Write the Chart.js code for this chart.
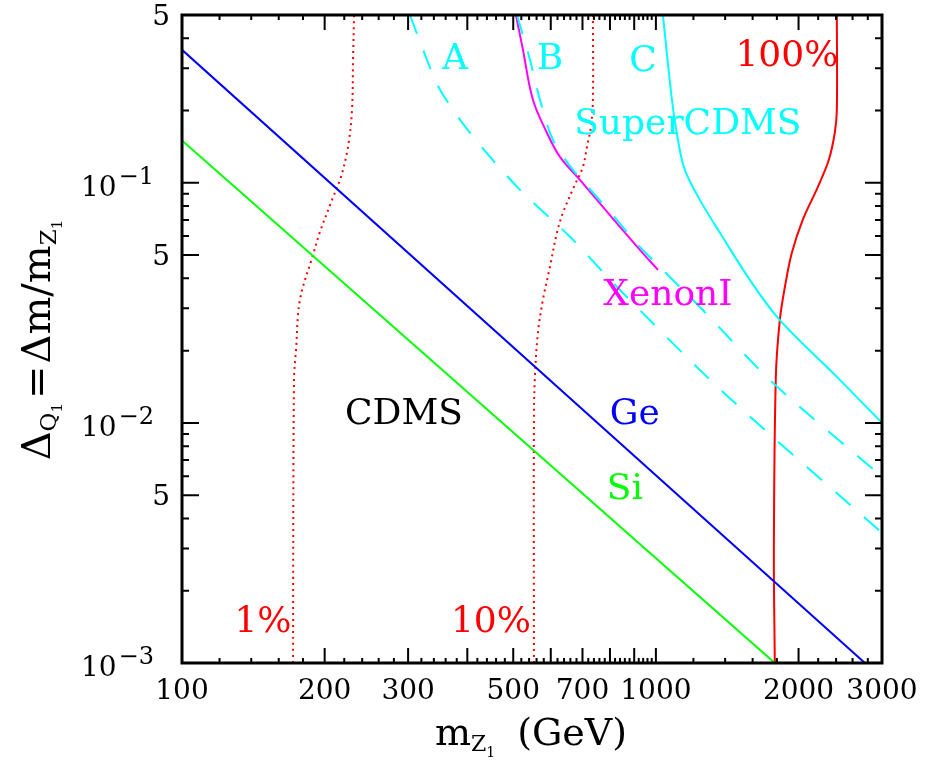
<!DOCTYPE html>
<html>
<head>
<meta charset="utf-8">
<script src="https://cdn.jsdelivr.net/npm/chart.js@4.4.1/dist/chart.umd.min.js"></script>
<style>
  html, body { margin: 0; padding: 0; background: #fff; }
  #wrap { width: 942px; height: 763px; }
</style>
</head>
<body>
<div id="wrap"><canvas id="limits" width="942" height="763"></canvas></div>
<script>
const FONT = '"DejaVu Serif", serif';

// axis ticks that carry a label
const xLabelValues = [100, 200, 300, 500, 700, 1000, 2000, 3000];
const yLabelValues = [0.001, 0.005, 0.01, 0.05, 0.1, 0.5];
const yLabelBase = ['10', '5', '10', '5', '10', '5'];
const yLabelExp = ['\u22123', '', '\u22122', '', '\u22121', ''];

// tick marks drawn on the frame
const xMajorTicks = [100, 200, 300, 400, 500, 600, 700, 800, 900, 1000, 2000, 3000];
const yMajorTicks = [0.001, 0.005, 0.01, 0.05, 0.1, 0.5];
const yMinorTicks = [0.002, 0.003, 0.004, 0.006, 0.007, 0.008, 0.009,
                     0.02, 0.03, 0.04, 0.06, 0.07, 0.08, 0.09,
                     0.2, 0.3, 0.4];

// CDMS limits (straight lines in log-log)
const geLine = [{x: 100, y: 0.358}, {x: 2761, y: 0.001}];
const siLine = [{x: 100, y: 0.150}, {x: 1782, y: 0.001}];

// relic density contours
const relic1 = [
  {x: 171.5, y: 0.001}, {x: 172.3, y: 0.0151}, {x: 174.0, y: 0.0201}, {x: 177.4, y: 0.0326},
  {x: 189.0, y: 0.0501}, {x: 195.5, y: 0.0625}, {x: 207.3, y: 0.0849}, {x: 216.5, y: 0.106},
  {x: 224.0, y: 0.141}, {x: 228.4, y: 0.201}, {x: 229.6, y: 0.326}, {x: 230.7, y: 0.5}
];
const relic10 = [
  {x: 552.8, y: 0.001}, {x: 552.8, y: 0.0102}, {x: 555.5, y: 0.01555}, {x: 563.7, y: 0.0237},
  {x: 577.6, y: 0.0326}, {x: 597.6, y: 0.0447}, {x: 618.2, y: 0.0619}, {x: 636.6, y: 0.075},
  {x: 671.4, y: 0.0962}, {x: 701.5, y: 0.1166}, {x: 715.2, y: 0.141}, {x: 729.3, y: 0.171},
  {x: 736.4, y: 0.222}, {x: 736.4, y: 0.5}
];
const relic100 = [
  {x: 1782, y: 0.001}, {x: 1774, y: 0.00296}, {x: 1791, y: 0.01555}, {x: 1826, y: 0.0268},
  {x: 1872, y: 0.0369}, {x: 1936, y: 0.0511}, {x: 2042, y: 0.0702}, {x: 2197, y: 0.0962},
  {x: 2317, y: 0.1247}, {x: 2385, y: 0.1616}, {x: 2409, y: 0.201}, {x: 2409, y: 0.5}
];

// SuperCDMS projections
const superA = [
  {x: 302.7, y: 0.5}, {x: 325.6, y: 0.3416}, {x: 350.3, y: 0.2441}, {x: 405.2, y: 0.1616},
  {x: 516.6, y: 0.0935}, {x: 658.6, y: 0.0596}, {x: 839.5, y: 0.0358}, {x: 1385, y: 0.01346},
  {x: 3000, y: 0.00348}
];
const superB = [
  {x: 509.1, y: 0.5}, {x: 542.2, y: 0.3255}, {x: 569.2, y: 0.2217}, {x: 606.3, y: 0.1511},
  {x: 668.3, y: 0.1133}, {x: 750.8, y: 0.0874}, {x: 827.4, y: 0.0701}, {x: 925.1, y: 0.0541},
  {x: 1238, y: 0.0304}, {x: 1766, y: 0.01468}, {x: 3000, y: 0.00596}
];
const superC = [
  {x: 1034.6, y: 0.5}, {x: 1081, y: 0.222}, {x: 1113, y: 0.151}, {x: 1151, y: 0.1132},
  {x: 1238, y: 0.0849}, {x: 1365, y: 0.0619}, {x: 1594, y: 0.0383}, {x: 1826, y: 0.0268},
  {x: 2409, y: 0.01555}, {x: 3000, y: 0.01}
];

// XENON limit
const xenon1 = [
  {x: 506.6, y: 0.5}, {x: 524.1, y: 0.3582}, {x: 550.2, y: 0.2217}, {x: 588.8, y: 0.1616},
  {x: 627.4, y: 0.1283}, {x: 691.3, y: 0.1029}, {x: 773.0, y: 0.0794}, {x: 839.5, y: 0.0656},
  {x: 925.1, y: 0.0526}, {x: 1010, y: 0.0434}
];

// text placed in the plot (data coordinates)
const plotLabels = [
  {text: 'A', x: 376.7, y: 0.3255, color: '#00ffff'},
  {text: 'B', x: 597.6, y: 0.3255, color: '#00ffff'},
  {text: 'C', x: 938.9, y: 0.32, color: '#00ffff'},
  {text: '100%', x: 1890, y: 0.335, color: '#ff0000'},
  {text: 'SuperCDMS', x: 1168, y: 0.1745, color: '#00ffff'},
  {text: 'XenonI', x: 1060, y: 0.0338, color: '#ff00ff'},
  {text: 'CDMS', x: 294, y: 0.0108, color: '#000000'},
  {text: 'Ge', x: 903, y: 0.0108, color: '#0000ff'},
  {text: 'Si', x: 860, y: 0.00526, color: '#00ff00'},
  {text: '1%', x: 148.2, y: 0.00147, color: '#ff0000'},
  {text: '10%', x: 448.6, y: 0.00147, color: '#ff0000'}
];

function line(data, color, dash, tension) {
  return {
    data: data,
    borderColor: color,
    borderWidth: 2,
    borderDash: dash || [],
    pointRadius: 0,
    tension: tension || 0,
    fill: false
  };
}

function drawRich(ctx, parts, cx, baseY) {
  let total = 0;
  parts.forEach(p => {
    ctx.font = p.size + 'px ' + FONT;
    p.w = ctx.measureText(p.text).width;
    total += p.w + (p.gap || 0);
  });
  let x = cx - total / 2;
  ctx.textAlign = 'left';
  ctx.textBaseline = 'alphabetic';
  parts.forEach(p => {
    ctx.font = p.size + 'px ' + FONT;
    ctx.fillText(p.text, x, baseY + (p.dy || 0));
    x += p.w + (p.gap || 0);
  });
}

const framePlugin = {
  id: 'frame',
  afterDatasetsDraw(chart) {
    const ctx = chart.ctx;
    const a = chart.chartArea;
    const xs = chart.scales.x;
    const ys = chart.scales.y;
    ctx.save();

    // tick marks on all four sides, pointing inwards
    ctx.strokeStyle = '#000';
    ctx.lineWidth = 2;
    ctx.beginPath();
    const xMinor = [];
    for (let v = 120; v < 1000; v += 20) if (v % 100) xMinor.push(v);
    for (let v = 1200; v < 3000; v += 200) if (v % 1000) xMinor.push(v);
    const xMark = (v, len) => {
      const px = xs.getPixelForValue(v);
      ctx.moveTo(px, a.bottom); ctx.lineTo(px, a.bottom - len);
      ctx.moveTo(px, a.top); ctx.lineTo(px, a.top + len);
    };
    const yMark = (v, len) => {
      const py = ys.getPixelForValue(v);
      ctx.moveTo(a.left, py); ctx.lineTo(a.left + len, py);
      ctx.moveTo(a.right, py); ctx.lineTo(a.right - len, py);
    };
    xMajorTicks.forEach(v => xMark(v, 15));
    xMinor.forEach(v => xMark(v, 5));
    yMajorTicks.forEach(v => yMark(v, 17));
    yMinorTicks.forEach(v => yMark(v, 7));
    ctx.stroke();

    // frame
    ctx.lineWidth = 3;
    ctx.strokeRect(a.left, a.top, a.right - a.left, a.bottom - a.top);

    // y tick labels: mantissa or 10 with a raised exponent
    ctx.fillStyle = '#000';
    ctx.textBaseline = 'alphabetic';
    yLabelValues.forEach((v, i) => {
      const py = ys.getPixelForValue(v);
      if (yLabelExp[i]) {
        ctx.textAlign = 'right';
        ctx.font = '24px ' + FONT;
        ctx.fillText(yLabelExp[i], a.left - 28, py + 1);
        const ew = ctx.measureText(yLabelExp[i]).width;
        ctx.font = '28px ' + FONT;
        ctx.fillText(yLabelBase[i], a.left - 30 - ew, py + 13);
      } else {
        ctx.textAlign = 'right';
        ctx.font = '28px ' + FONT;
        ctx.fillText(yLabelBase[i], a.left - 12, py + 10);
      }
    });

    // curve labels
    ctx.font = '36px ' + FONT;
    ctx.textAlign = 'center';
    ctx.textBaseline = 'middle';
    plotLabels.forEach(l => {
      ctx.fillStyle = l.color;
      ctx.fillText(l.text, xs.getPixelForValue(l.x), ys.getPixelForValue(l.y));
    });

    // axis titles
    ctx.fillStyle = '#000';
    drawRich(ctx, [
      {text: 'm', size: 38},
      {text: 'Z', size: 22, dy: 6},
      {text: '1', size: 14, dy: 12, gap: 22},
      {text: '(GeV)', size: 38}
    ], 531, 745);

    ctx.translate(50, 340);
    ctx.rotate(-Math.PI / 2);
    drawRich(ctx, [
      {text: '\u0394', size: 40},
      {text: 'Q', size: 23, dy: 6},
      {text: '1', size: 15, dy: 12, gap: 4},
      {text: '=', size: 40, gap: 2},
      {text: '\u0394m/m', size: 40},
      {text: 'Z', size: 23, dy: 6},
      {text: '1', size: 15, dy: 12}
    ], 0, 0);

    ctx.restore();
  }
};

new Chart(document.getElementById('limits'), {
  type: 'line',
  data: {
    datasets: [
      line(geLine, '#0000ff'),
      line(siLine, '#00ff00'),
      line(superA, '#00ffff', [20, 18], 0.3),
      line(superB, '#00ffff', [20, 18], 0.3),
      line(superC, '#00ffff', null, 0.35),
      line(xenon1, '#ff00ff', null, 0.35),
      line(relic1, '#ff0000', [2, 4], 0.35),
      line(relic10, '#ff0000', [2, 4], 0.35),
      line(relic100, '#ff0000', null, 0.35)
    ]
  },
  options: {
    responsive: false,
    animation: false,
    events: [],
    layout: { padding: { top: 0, right: 60, left: 0, bottom: 0 } },
    plugins: {
      legend: { display: false },
      tooltip: { enabled: false }
    },
    scales: {
      x: {
        type: 'logarithmic',
        min: 100,
        max: 3000,
        grid: { display: false, drawTicks: false },
        border: { display: false },
        afterBuildTicks: (scale) => {
          scale.ticks = xLabelValues.map(v => ({ value: v }));
        },
        afterFit: (scale) => { scale.height = 100; },
        ticks: {
          autoSkip: false,
          maxRotation: 0,
          padding: 12,
          color: '#000',
          font: { family: FONT, size: 28 },
          callback: (value) => String(value)
        }
      },
      y: {
        type: 'logarithmic',
        min: 0.001,
        max: 0.5,
        grid: { display: false, drawTicks: false },
        border: { display: false },
        afterBuildTicks: (scale) => {
          scale.ticks = yLabelValues.map(v => ({ value: v }));
        },
        afterFit: (scale) => {
          scale.width = 182;
          scale.paddingTop = 15;
          scale.paddingBottom = 0;
        },
        ticks: { display: false }
      }
    }
  },
  plugins: [framePlugin]
});
</script>
</body>
</html>
